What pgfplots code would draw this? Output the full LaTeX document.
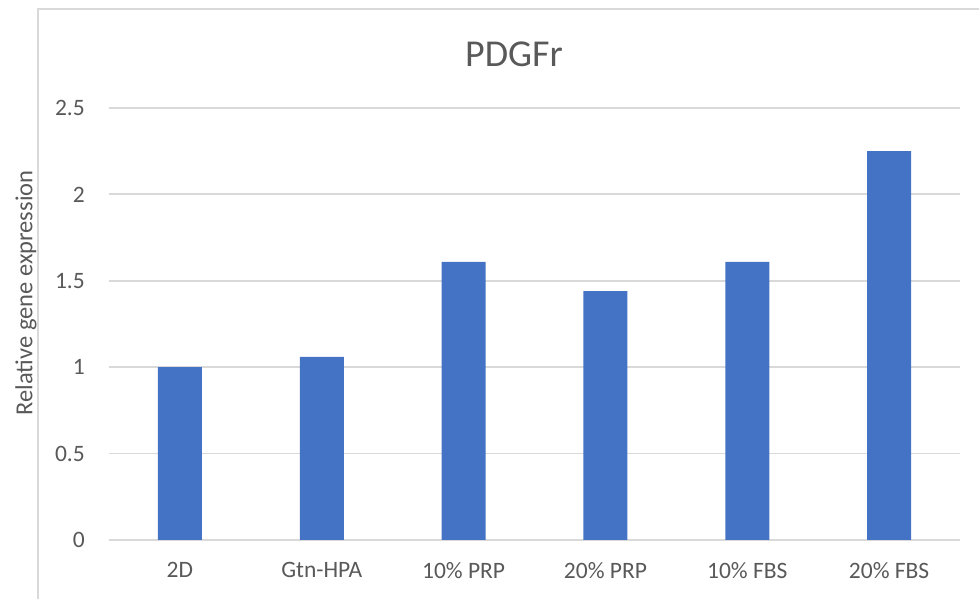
\documentclass[border=0pt]{standalone}
\usepackage{pgfplots}
\pgfplotsset{compat=1.18}
\usepackage{fontspec}
\setmainfont{Carlito}
\definecolor{barblue}{HTML}{4472C4}
\definecolor{gridgray}{HTML}{D9D9D9}
\definecolor{txtgray}{HTML}{595959}
\begin{document}
\begin{tikzpicture}[x=1pt,y=1pt]
\useasboundingbox (0,0) rectangle (979,599);
\draw[gridgray, line width=2pt] (38,-5) -- (38,590) -- (985,590);
\begin{axis}[
  at={(109pt,59pt)}, anchor=south west,
  scale only axis, width=851pt, height=432pt,
  xmin=-0.5, xmax=5.5, ymin=0, ymax=2.5,
  axis line style={draw=none},
  ymajorgrids, grid style={gridgray, line width=1.8pt},
  ytick={0,0.5,1,1.5,2,2.5},
  xtick=data,
  xticklabels={2D, Gtn-HPA, 10\% PRP, 20\% PRP, 10\% FBS, 20\% FBS},
  major tick length=0pt, tick style={draw=none},
  /pgf/number format/assume math mode=true,
  ticklabel style={font=\fontsize{23.5}{27}\selectfont, text=txtgray},
  yticklabel style={inner sep=0pt, anchor=east, xshift=-24pt},
  xticklabel style={inner sep=0pt, anchor=north, yshift=-22pt},
  clip=false,
]
\addplot[ybar, bar width=44pt, fill=barblue, draw=none]
  coordinates {(0,1.00) (1,1.06) (2,1.61) (3,1.44) (4,1.61) (5,2.25)};
\end{axis}
\node[text=txtgray, font=\fontsize{38}{44}\selectfont, anchor=center, inner sep=0pt] at (514,544.5) {PDGFr};
\node[text=txtgray, font=\fontsize{24.5}{28}\selectfont, rotate=90, anchor=center, inner sep=0pt] at (26,306) {Relative gene expression};
\end{tikzpicture}
\end{document}
